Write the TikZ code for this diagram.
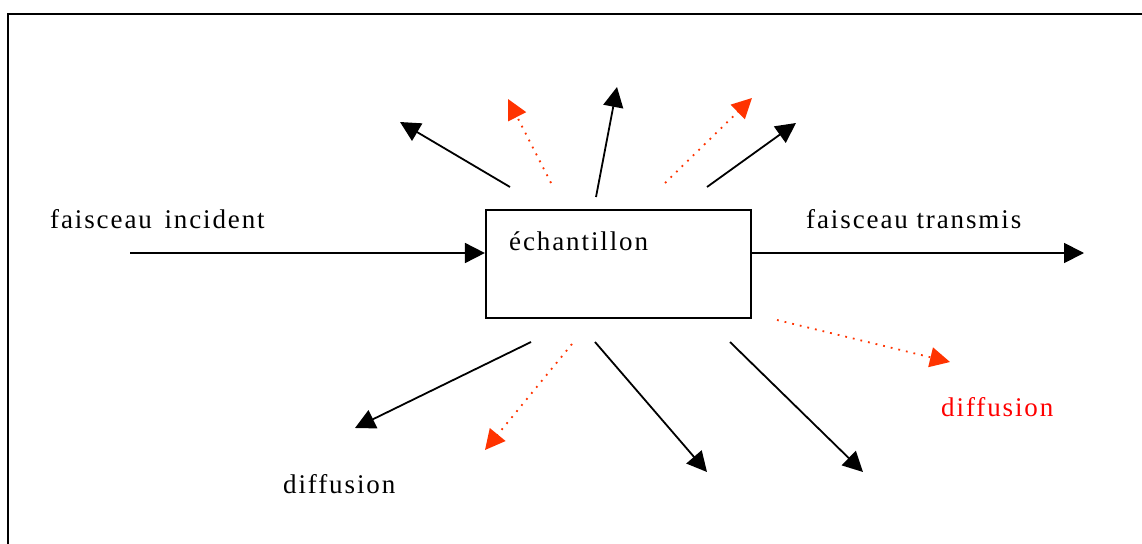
\documentclass[tikz,border=0pt]{standalone}
\usepackage{fontspec}
\setmainfont{Liberation Serif}[LetterSpace=7]
\usetikzlibrary{arrows.meta}
\definecolor{diffred}{RGB}{255,51,0}
\definecolor{textred}{RGB}{255,0,0}
\tikzset{
  lbl/.style={anchor=base west, inner sep=0pt, font=\fontsize{27}{31}\selectfont},
  ray/.style={line width=1.8pt, -{Triangle[length=20pt,width=20pt]}},
  redray/.style={line width=1.8pt, diffred, dash pattern=on 1.8pt off 6pt, -{Triangle[length=20pt,width=20pt]}},
  samplebox/.style={draw, line width=2.2pt, minimum width=265pt, minimum height=108pt, inner sep=0pt}
}
\begin{document}
\begin{tikzpicture}[x=1pt,y=-1pt]
\useasboundingbox (0,0) rectangle (1142,543);
\clip (0,0) rectangle (1142,543);
% frame
\draw[line width=2.2pt] (8,560) -- (8,14) -- (1160,14);
% sample box
\node[samplebox] (sample) at (618.5,264) {};
\node[lbl] (samplelbl) at (509,250) {échantillon};
% labels
\node[lbl] (inclbl) at (50,228) {faisceau\hspace{4pt} incident};
\node[lbl] (translbl) at (806,228) {faisceau transmis};
\node[lbl] (difflbl) at (283,493) {diffusion};
\node[lbl, text=textred] (diffredlbl) at (941,416) {diffusion};
% incident and transmitted beams
\coordinate (inA) at (130,253);
\coordinate (outB) at (1084,253);
\draw[ray] (inA) -- (inA -| sample.west);
\draw[ray] (sample.east |- outB) -- (outB);
% upper rays
\coordinate (u1s) at (510,187); \coordinate (u1e) at (400,122);
\coordinate (u2s) at (551,183); \coordinate (u2e) at (508,99);
\coordinate (u3s) at (596,197); \coordinate (u3e) at (617,87);
\coordinate (u4s) at (665,183); \coordinate (u4e) at (752,98);
\coordinate (u5s) at (707,187); \coordinate (u5e) at (796,123);
\draw[ray] (u1s) -- (u1e);
\draw[redray] (u2s) -- (u2e);
\draw[ray] (u3s) -- (u3e);
\draw[redray] (u4s) -- (u4e);
\draw[ray] (u5s) -- (u5e);
% lower rays
\coordinate (d1s) at (531,342); \coordinate (d1e) at (355,428);
\coordinate (d2s) at (572,344); \coordinate (d2e) at (485,450);
\coordinate (d3s) at (595,342); \coordinate (d3e) at (707,472);
\coordinate (d4s) at (730,342); \coordinate (d4e) at (863,472);
\coordinate (d5s) at (777,320); \coordinate (d5e) at (950,362);
\draw[ray] (d1s) -- (d1e);
\draw[redray] (d2s) -- (d2e);
\draw[ray] (d3s) -- (d3e);
\draw[ray] (d4s) -- (d4e);
\draw[redray] (d5s) -- (d5e);
\end{tikzpicture}
\end{document}
